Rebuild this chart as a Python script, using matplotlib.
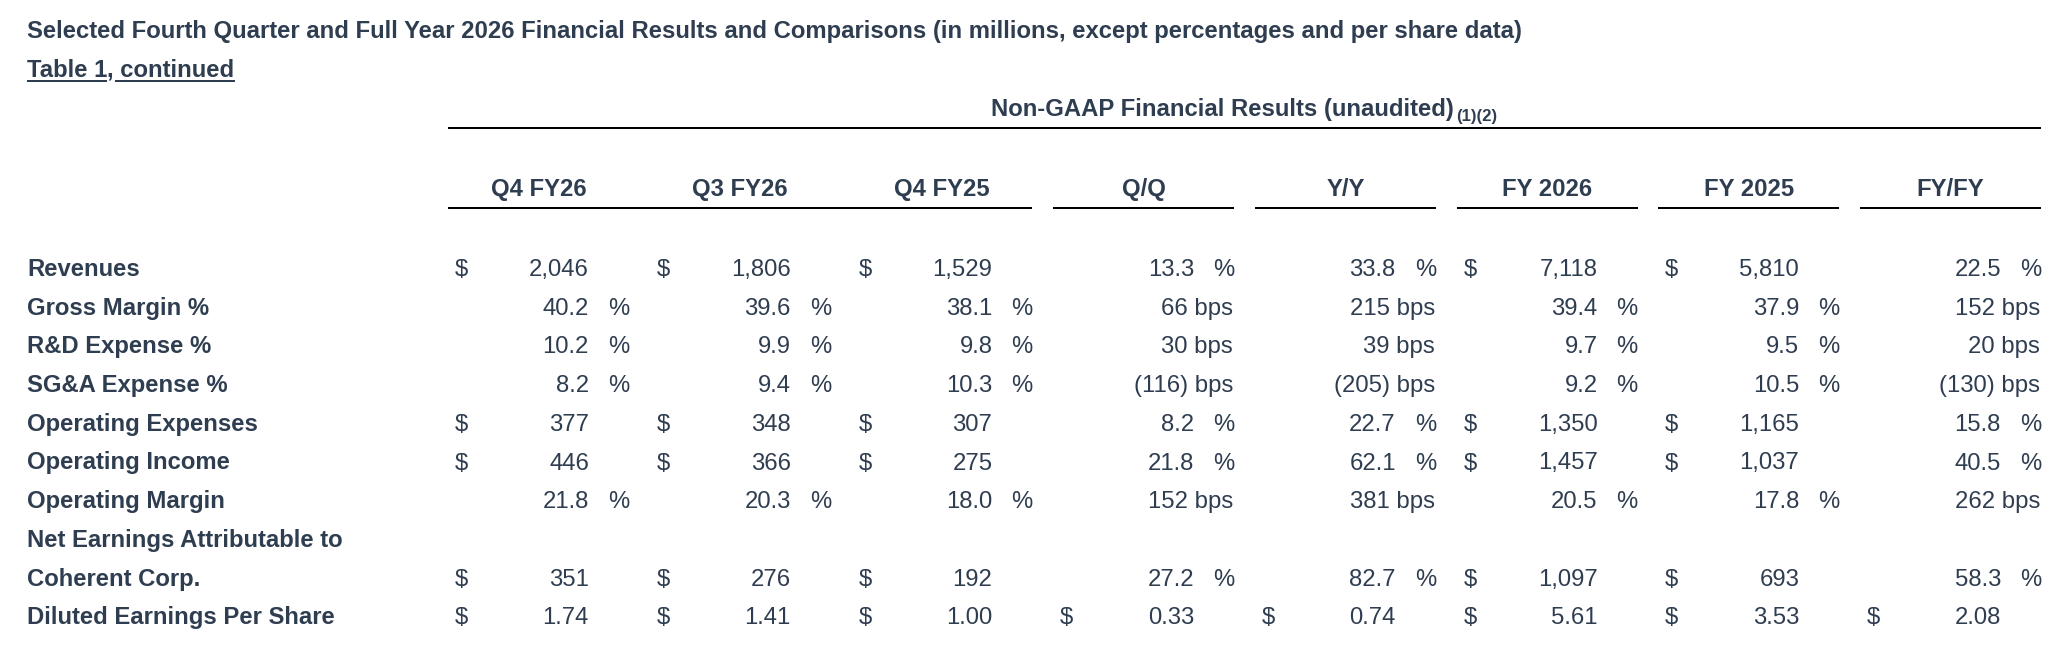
import matplotlib.pyplot as plt
from matplotlib.lines import Line2D

# table data (in millions, except percentages and per share data)
row_labels = ['Revenues', 'Gross Margin %', 'R&D Expense %', 'SG&A Expense %',
              'Operating Expenses', 'Operating Income', 'Operating Margin',
              'Net Earnings Attributable to\nCoherent Corp.', 'Diluted Earnings Per Share']
col_headers = ['Q4 FY26', 'Q3 FY26', 'Q4 FY25', 'Q/Q', 'Y/Y', 'FY 2026', 'FY 2025', 'FY/FY']

# unit of each row for the period columns and for the change columns
period_units = ['$', '%', '%', '%', '$', '$', '%', '$', 'eps']
change_units = ['%', 'bps', 'bps', 'bps', '%', '%', 'bps', '%', 'eps']

q4_fy26 = [2046, 40.2, 10.2, 8.2, 377, 446, 21.8, 351, 1.74]
q3_fy26 = [1806, 39.6, 9.9, 9.4, 348, 366, 20.3, 276, 1.41]
q4_fy25 = [1529, 38.1, 9.8, 10.3, 307, 275, 18.0, 192, 1.00]
qoq = [13.3, 66, 30, -116, 8.2, 21.8, 152, 27.2, 0.33]
yoy = [33.8, 215, 39, -205, 22.7, 62.1, 381, 82.7, 0.74]
fy2026 = [7118, 39.4, 9.7, 9.2, 1350, 1457, 20.5, 1097, 5.61]
fy2025 = [5810, 37.9, 9.5, 10.5, 1165, 1037, 17.8, 693, 3.53]
fyfy = [22.5, 152, 20, -130, 15.8, 40.5, 262, 58.3, 2.08]

columns = [q4_fy26, q3_fy26, q4_fy25, qoq, yoy, fy2026, fy2025, fyfy]
is_change = [False, False, False, True, True, False, False, True]

TEXT = '#2f3d50'
FS = 17.2          # ~24 px
plt.rcParams['font.family'] = ['Liberation Sans', 'DejaVu Sans']

W, H = 2072, 651
fig = plt.figure(figsize=(W / 100, H / 100), dpi=100)
ax = fig.add_axes([0, 0, 1, 1])
ax.set_xlim(0, W)
ax.set_ylim(H, 0)
ax.axis('off')

left = 27
col0 = 448
colw = 201.7
segw = 181
row0 = 276
rowh = 38.7


def hline(x1, x2, y, lw=2.0, color='black'):
    ax.add_line(Line2D([x1, x2], [y, y], color=color, lw=lw * 0.72, solid_capstyle='butt'))


def fmt_value(v, unit):
    if unit == '$':
        return f'{v:,.0f}'
    if unit == 'eps':
        return f'{v:.2f}'
    if unit == '%':
        return f'{v:.1f}'
    # bps
    return f'({abs(v):.0f}) bps' if v < 0 else f'{v:.0f} bps'


def x_extent(t):
    bb = t.get_window_extent(renderer)
    (a, _), (b, _) = inv.transform([[bb.x0, bb.y0], [bb.x1, bb.y1]])
    return a, b


# titles
ax.text(left, 38, 'Selected Fourth Quarter and Full Year 2026 Financial Results and Comparisons '
        '(in millions, except percentages and per share data)',
        fontsize=FS, fontweight='bold', color=TEXT, va='baseline', ha='left')
sub1 = ax.text(left, 77, 'Table 1', fontsize=FS, fontweight='bold',
               color=TEXT, va='baseline', ha='left')
fig.canvas.draw()
renderer = fig.canvas.get_renderer()
inv = ax.transData.inverted()
a1, b1 = x_extent(sub1)
sub2 = ax.text(b1, 77, ', continued', fontsize=FS, fontweight='bold',
               color=TEXT, va='baseline', ha='left')
fig.canvas.draw()
a2, b2 = x_extent(sub2)
hline(a1, b1, 80.5, color=TEXT)
hline(a2 + 8, b2, 80.5, color=TEXT)

# group header, centred over the line with its footnote marks
table_right = col0 + 7 * colw + segw
grp = ax.text(0, 116, 'Non-GAAP Financial Results (unaudited)', fontsize=FS,
              fontweight='bold', color=TEXT, va='baseline', ha='left')
note = ax.text(0, 121, '(1)(2)', fontsize=FS * 0.7, fontweight='bold',
               color=TEXT, va='baseline', ha='left')
fig.canvas.draw()
gw = grp.get_window_extent(renderer).width
nw = note.get_window_extent(renderer).width
total = gw + 2 + nw
start = (col0 + table_right) / 2 - total / 2
grp.set_x(start)
note.set_x(start + gw + 2)
hline(col0, table_right, 128)

# column headers and their rules
for i, name in enumerate(col_headers):
    x = col0 + i * colw
    ax.text(x + segw / 2, 196, name, fontsize=FS, fontweight='bold', color=TEXT,
            ha='center', va='baseline')
    if i >= 3:
        hline(x, x + segw, 208)
hline(col0, col0 + 2 * colw + segw, 208)

# row labels
slot = 0
value_slots = []
for lab in row_labels:
    for ln in lab.split('\n'):
        ax.text(left, row0 + slot * rowh, ln, fontsize=FS, fontweight='bold',
                color=TEXT, ha='left', va='baseline')
        slot += 1
    value_slots.append(slot - 1)

# values
for c, vals in enumerate(columns):
    x = col0 + c * colw
    units = change_units if is_change[c] else period_units
    for r, v in enumerate(vals):
        y = row0 + value_slots[r] * rowh
        unit = units[r]
        if unit in ('$', 'eps'):
            ax.text(x + 7, y, '$', fontsize=FS, color=TEXT, ha='left', va='baseline')
        if unit == 'bps':
            ax.text(x + segw - 1, y, fmt_value(v, unit), fontsize=FS, color=TEXT,
                    ha='right', va='baseline')
            continue
        ax.text(x + 141, y, fmt_value(v, unit), fontsize=FS, color=TEXT,
                ha='right', va='baseline')
        if unit == '%':
            ax.text(x + 160, y, '%', fontsize=FS, color=TEXT, ha='left', va='baseline')

fig.savefig('out.png', dpi=100, facecolor='white')
